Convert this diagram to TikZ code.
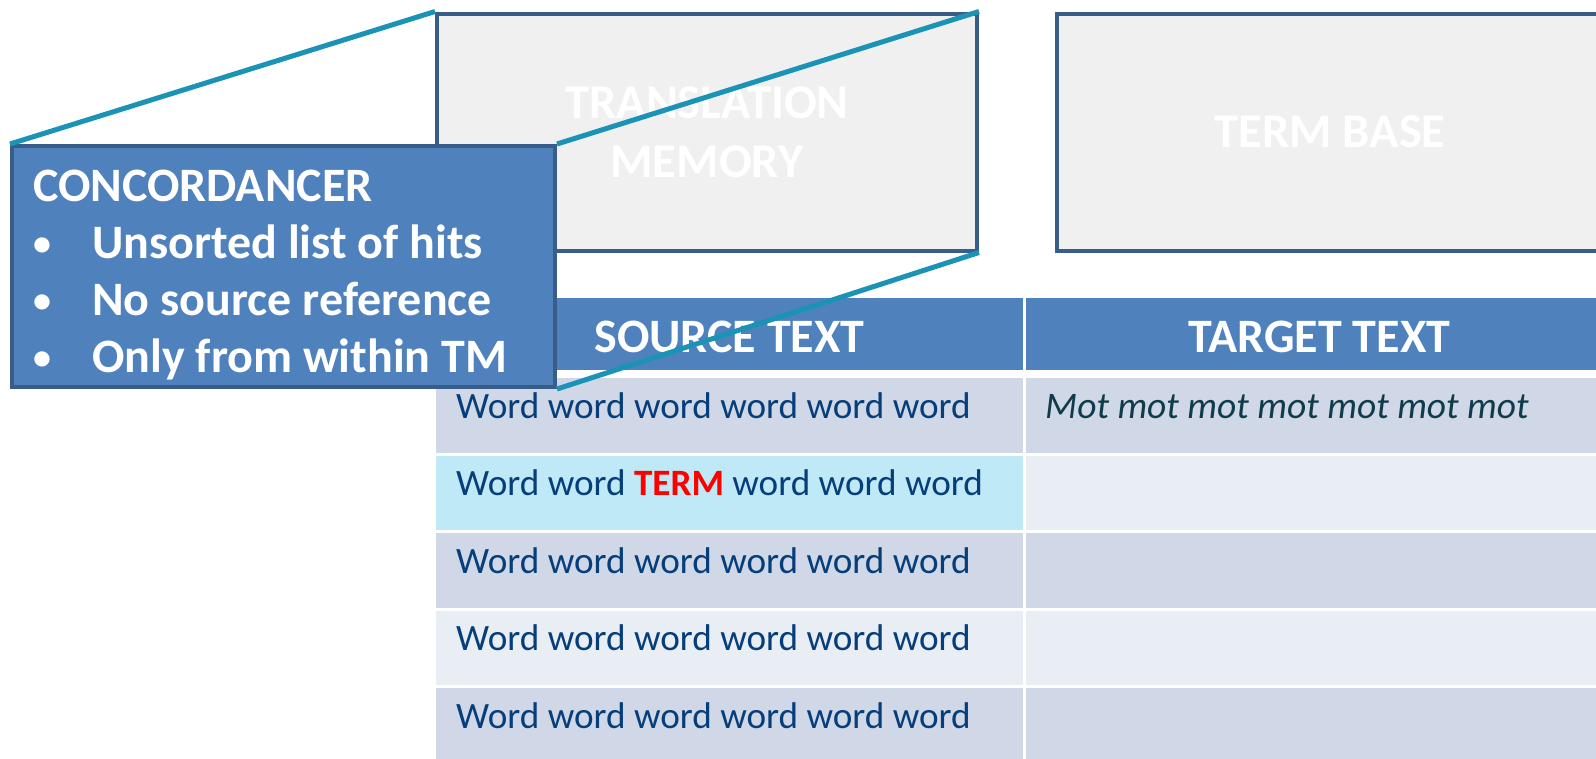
\documentclass[tikz,border=0pt]{standalone}
\usepackage{fontspec}
\setmainfont{Carlito}

\definecolor{hdrblue}{HTML}{4F81BD}
\definecolor{edgeblue}{HTML}{385D8A}
\definecolor{zoomteal}{RGB}{27,147,182}
\definecolor{boxgray}{HTML}{F0F0F0}
\definecolor{rowdark}{HTML}{D0D8E8}
\definecolor{rowlight}{HTML}{E9EDF4}
\definecolor{rowhit}{HTML}{BFE9F7}
\definecolor{wordblue}{RGB}{5,62,122}
\definecolor{motteal}{RGB}{15,60,75}

\newcommand{\concbullet}{\makebox[59pt][l]{\raisebox{3pt}{\fontsize{36}{36}\selectfont\textbullet}}}

\begin{document}
\begin{tikzpicture}[x=1pt,y=-1pt,
    dbbox/.style={fill=boxgray,draw=edgeblue,line width=4pt,inner sep=0pt,
      minimum width=540pt,minimum height=237pt,text=white,align=center,
      font=\fontsize{48.5}{59}\selectfont\bfseries},
    hdrcell/.style={fill=hdrblue,inner sep=0pt,minimum width=587pt,
      minimum height=72pt,text height=36pt,text depth=0pt,text=white,
      font=\fontsize{48}{56}\selectfont\bfseries},
    rowcell/.style={inner sep=0pt,minimum width=587pt,minimum height=74.5pt},
    srctxt/.style={anchor=base west,inner sep=0pt,text=wordblue,
      font=\fontsize{37.2}{44}\selectfont},
    tgttxt/.style={anchor=base west,inner sep=0pt,text=motteal,
      font=\fontsize{37.5}{44}\selectfont\itshape},
    concbox/.style={fill=hdrblue,draw=edgeblue,line width=4pt,inner sep=0pt,
      minimum width=543pt,minimum height=241pt},
    conctxt/.style={anchor=base west,inner sep=0pt,text=white,
      font=\fontsize{48}{57}\selectfont\bfseries},
    zoomline/.style={draw=zoomteal,line width=5pt}]
  \useasboundingbox (0,0) rectangle (1596,758);
  \clip (0,0) rectangle (1596,758);
  \fill[white] (0,0) rectangle (1596,758);

  % databases
  \draw
    (707,132) node[dbbox] (tm){TRANSLATION\\MEMORY}
    (1330,132) node[dbbox,minimum width=546pt] (tb){TERM BASE};

  % table
  \draw
    (729.5,334) node[hdrcell] (srch){SOURCE TEXT}
    (1319.5,334) node[hdrcell] (tgth){TARGET TEXT}
    (729.5,415.25) node[rowcell,fill=rowdark] (src1){}
    (1319.5,415.25) node[rowcell,fill=rowdark] (tgt1){}
    (729.5,492.75) node[rowcell,fill=rowhit] (src2){}
    (1319.5,492.75) node[rowcell,fill=rowlight] (tgt2){}
    (729.5,570.25) node[rowcell,fill=rowdark] (src3){}
    (1319.5,570.25) node[rowcell,fill=rowdark] (tgt3){}
    (729.5,647.75) node[rowcell,fill=rowlight] (src4){}
    (1319.5,647.75) node[rowcell,fill=rowlight] (tgt4){}
    (729.5,725.25) node[rowcell,fill=rowdark] (src5){}
    (1319.5,725.25) node[rowcell,fill=rowdark] (tgt5){};
  \draw
    (456,418) node[srctxt] (w1){Word word word word word word}
    (456,495.5) node[srctxt] (w2){Word word \textcolor{red}{\bfseries TERM} word word word}
    (456,573) node[srctxt] (w3){Word word word word word word}
    (456,650.5) node[srctxt] (w4){Word word word word word word}
    (456,728) node[srctxt] (w5){Word word word word word word}
    (1045,418) node[tgttxt] (m1){Mot mot mot mot mot mot mot};

  % concordancer callout
  \draw
    (283.5,266.5) node[concbox] (conc){}
    (33,201) node[conctxt] (c0){CONCORDANCER}
    (33,258) node[conctxt] (c1){\concbullet Unsorted list of hits}
    (33,315) node[conctxt] (c2){\concbullet No source reference}
    (33,372) node[conctxt] (c3){\concbullet Only from within TM};
  \begin{scope}[zoomline]
    \draw (conc.north west) -- (tm.north west);
    \draw (conc.north east) -- (tm.north east);
    \draw (conc.south east) -- (tm.south east);
  \end{scope}
\end{tikzpicture}
\end{document}
